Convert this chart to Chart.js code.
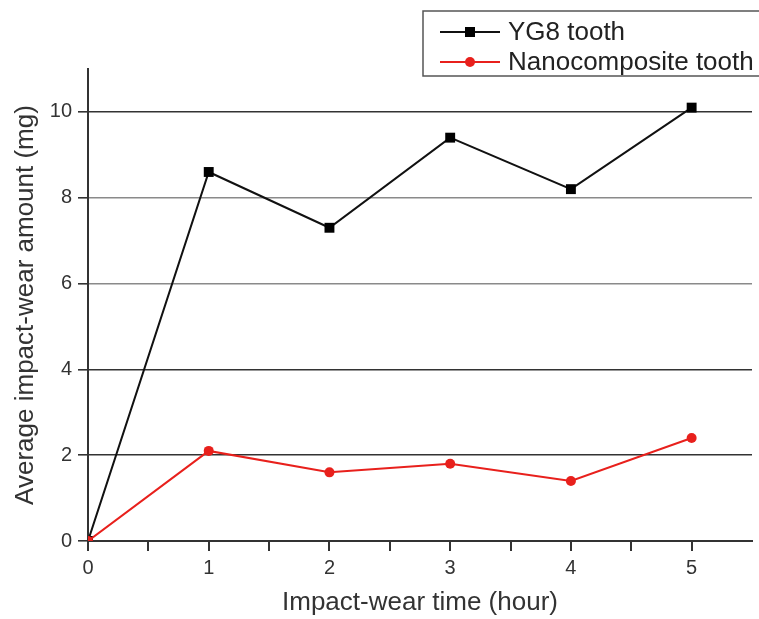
<!DOCTYPE html>
<html>
<head>
<meta charset="utf-8">
<script src="https://cdn.jsdelivr.net/npm/chart.js@4"></script>
<style>
  html, body { margin: 0; padding: 0; background: #fff; }
</style>
</head>
<body>
<canvas id="grafico" width="759" height="619"></canvas>
<script>
// datos
const horas = [0, 1, 2, 3, 4, 5];
const yg8 = [0, 8.6, 7.3, 9.4, 8.2, 10.1];
const nano = [0, 2.1, 1.6, 1.8, 1.4, 2.4];
const nombres = ["YG8 tooth", "Nanocomposite tooth"];
const etiquetasY = [0, 2, 4, 6, 8, 10];
const etiquetasX = [0, 1, 2, 3, 4, 5];

const fuente = "'Liberation Sans', Arial, sans-serif";

// leyenda dibujada a mano (caja arriba a la derecha)
const leyenda = {
  id: "leyenda",
  afterDraw(chart) {
    const ctx = chart.ctx;
    ctx.save();
    ctx.strokeStyle = "#555";
    ctx.lineWidth = 1.5;
    ctx.strokeRect(423, 11, 345, 65);
    const filas = [32, 62];
    chart.data.datasets.forEach((ds, i) => {
      const y = filas[i];
      ctx.strokeStyle = ds.borderColor;
      ctx.lineWidth = 2;
      ctx.beginPath();
      ctx.moveTo(440, y);
      ctx.lineTo(500, y);
      ctx.stroke();
      ctx.fillStyle = ds.pointBackgroundColor;
      ctx.beginPath();
      if (ds.pointStyle === "rect") {
        ctx.rect(465, y - 5, 10, 10);
      } else {
        ctx.arc(470, y, 5, 0, Math.PI * 2);
      }
      ctx.fill();
      ctx.fillStyle = "#222";
      ctx.font = "26px " + fuente;
      ctx.textBaseline = "middle";
      ctx.fillText(ds.label, 508, y + 1);
    });
    ctx.restore();
  }
};

const ctx = document.getElementById("grafico").getContext("2d");

new Chart(ctx, {
  type: "line",
  data: {
    datasets: [{
      label: nombres[0],
      data: horas.map((h, i) => ({ x: h, y: yg8[i] })),
      borderColor: "#111",
      backgroundColor: "#111",
      pointBackgroundColor: "#000",
      pointBorderWidth: 0,
      pointStyle: "rect",
      pointRadius: 7,
      borderWidth: 2,
      order: 1
    }, {
      label: nombres[1],
      data: horas.map((h, i) => ({ x: h, y: nano[i] })),
      borderColor: "#e8201c",
      backgroundColor: "#e8201c",
      pointBackgroundColor: "#e8201c",
      pointBorderWidth: 0,
      pointStyle: "circle",
      pointRadius: 5,
      borderWidth: 2,
      order: 0
    }]
  },
  options: {
    responsive: false,
    animation: false,
    devicePixelRatio: 1,
    layout: { padding: { top: 69, right: 1, left: 0, bottom: 0 } },
    plugins: {
      legend: { display: false },
      tooltip: { enabled: false }
    },
    scales: {
      x: {
        type: "linear",
        min: 0,
        max: 5.5,
        afterFit(scale) { scale.height = 78; },
        border: { color: "#333", width: 2 },
        grid: {
          drawOnChartArea: false,
          tickLength: 10,
          tickColor: c => (c.tick.value > 5.4 ? "rgba(0,0,0,0)" : "#333"),
          lineWidth: 2
        },
        ticks: {
          stepSize: 0.5,
          autoSkip: false,
          maxRotation: 0,
          padding: 5,
          color: "#333",
          font: { family: fuente, size: 20 },
          callback: v => (etiquetasX.includes(v) ? String(v) : "")
        },
        title: {
          display: true,
          text: "Impact-wear time (hour)",
          color: "#333",
          font: { family: fuente, size: 26 },
          padding: { top: 0, bottom: 1 }
        }
      },
      y: {
        min: 0,
        max: 11,
        afterFit(scale) { scale.width = 88; },
        border: { color: "#333", width: 2 },
        grid: {
          tickLength: 10,
          lineWidth: c => (etiquetasY.includes(c.tick.value) ? 1.6 : 0),
          color: c => {
            const v = c.tick.value;
            if (!etiquetasY.includes(v) || v === 0) return "rgba(0,0,0,0)";
            return (v === 6 || v === 8) ? "#8a8a8a" : "#333";
          },
          tickColor: c => (c.tick.value > 10.5 ? "rgba(0,0,0,0)" : "#333")
        },
        ticks: {
          stepSize: 1,
          autoSkip: false,
          padding: 6,
          color: "#333",
          font: { family: fuente, size: 20 },
          callback: v => (etiquetasY.includes(v) ? String(v) : "")
        },
        title: {
          display: true,
          text: "Average impact-wear amount (mg)",
          color: "#333",
          font: { family: fuente, size: 26 },
          padding: { top: 10, bottom: 0 }
        }
      }
    }
  },
  plugins: [leyenda]
});
</script>
</body>
</html>
